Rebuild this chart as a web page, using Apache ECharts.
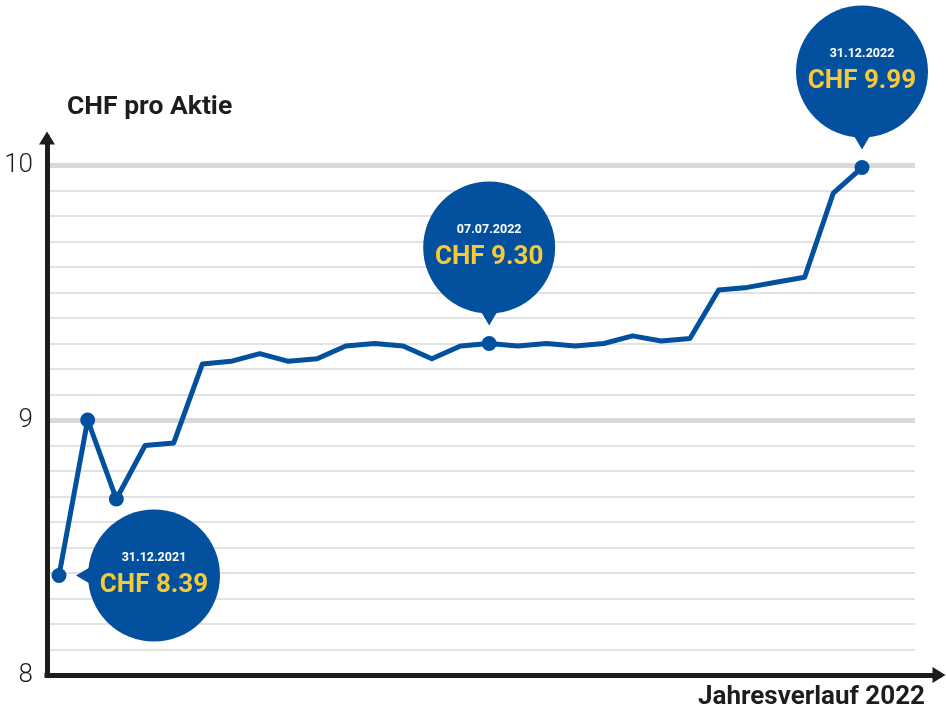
<!DOCTYPE html>
<html>
<head>
<meta charset="utf-8">
<script src="https://cdn.jsdelivr.net/npm/echarts@6/dist/echarts.min.js"></script>
<style>
html,body{margin:0;padding:0;background:#fff;}
#chart{width:946px;height:719px;}
</style>
</head>
<body>
<div id="chart"></div>
<script>
// ---- data ----
const prices = [8.39, 9.00, 8.69, 8.90, 8.91, 9.22, 9.23, 9.26, 9.23, 9.24, 9.29, 9.30, 9.29, 9.24, 9.29,
                9.30, 9.29, 9.30, 9.29, 9.30, 9.33, 9.31, 9.32, 9.51, 9.52, 9.54, 9.56, 9.89, 9.99];
const markedPoints = [0, 1, 2, 15, 28];
const bubbleIndex = [0, 15, 28];
const bubbleDates = ['31.12.2021', '07.07.2022', '31.12.2022'];
const bubbleDir = ['right', 'up', 'up'];
const yTicks = [8, 9, 10];
const yTitle = 'CHF pro Aktie';
const xTitle = 'Jahresverlauf 2022';

// ---- styles ----
const BLUE = '#02509e';
const YELLOW = '#f7c936';
const FONT = 'Roboto';

const lineData = prices.map((v, i) => [i, v]);
const bubbleData = bubbleIndex.map((idx, k) => [idx, prices[idx], k]);

const chart = echarts.init(document.getElementById('chart'), null, {renderer: 'canvas'});

chart.setOption({
  animation: false,
  backgroundColor: '#fff',
  title: [
    {text: yTitle, left: 67, top: 94, padding: 0,
     textStyle: {fontFamily: FONT, fontWeight: 'bold', fontSize: 26.5, color: '#1d1d1b'}},
    {text: xTitle, right: 21, top: 684, padding: 0,
     textStyle: {fontFamily: FONT, fontWeight: 'bold', fontSize: 26, color: '#1d1d1b'}}
  ],
  grid: [
    {left: 47, right: 31, top: 165, bottom: 44},
    {left: 47, right: 7, top: 138, bottom: 44}
  ],
  xAxis: [
    {type: 'value', gridIndex: 0, min: -0.4184, max: 29.848, show: false},
    {type: 'value', gridIndex: 1, min: 0, max: 1,
     axisLine: {show: true, onZero: false, symbol: ['none', 'triangle'], symbolSize: [16, 13],
                lineStyle: {color: '#1d1d1b', width: 5, cap: 'square'}},
     axisTick: {show: false}, axisLabel: {show: false}, splitLine: {show: false}}
  ],
  yAxis: [
    {type: 'value', gridIndex: 0, min: 8, max: 10, interval: 0.1,
     axisLine: {show: false}, axisTick: {show: false}, axisLabel: {show: false},
     splitLine: {show: true, lineStyle: {color: '#e2e2e2', width: 2}}},
    {type: 'value', gridIndex: 0, min: 8, max: 10, interval: 1, position: 'left',
     axisLine: {show: false}, axisTick: {show: false},
     axisLabel: {show: true, margin: 14, fontFamily: FONT, fontWeight: 300, fontSize: 26, color: '#1d1d1b',
                 formatter: v => (yTicks.indexOf(Math.round(v)) >= 0 ? String(Math.round(v)) : '')},
     splitLine: {show: true, lineStyle: {color: '#d9d9d9', width: 5}}},
    {type: 'value', gridIndex: 1, min: 0, max: 1,
     axisLine: {show: true, onZero: false, symbol: ['none', 'triangle'], symbolSize: [16, 13],
                lineStyle: {color: '#1d1d1b', width: 5, cap: 'square'}},
     axisTick: {show: false}, axisLabel: {show: false}, splitLine: {show: false}}
  ],
  series: [
    {
      type: 'line', xAxisIndex: 0, yAxisIndex: 0, data: lineData,
      showAllSymbol: true, symbol: 'circle',
      symbolSize: (val, params) => (markedPoints.indexOf(params.dataIndex) >= 0 ? 15 : 0),
      lineStyle: {color: BLUE, width: 5, join: 'round'},
      itemStyle: {color: BLUE, borderWidth: 0},
      z: 3
    },
    {
      type: 'custom', xAxisIndex: 0, yAxisIndex: 0, data: bubbleData, clip: false, z: 4,
      renderItem: (params, api) => {
        const p = api.coord([api.value(0), api.value(1)]);
        const k = api.value(2);
        const r = 66;
        let cx, cy, tri;
        if (bubbleDir[k] === 'right') {
          cx = p[0] + 95; cy = p[1];
          tri = [[p[0] + 17, p[1]], [cx - r + 10, cy - 13], [cx - r + 10, cy + 13]];
        } else {
          cx = p[0]; cy = p[1] - 96;
          tri = [[p[0], p[1] - 18], [cx - 13, cy + r - 10], [cx + 13, cy + r - 10]];
        }
        return {
          type: 'group',
          children: [
            {type: 'polygon', shape: {points: tri}, style: {fill: BLUE}},
            {type: 'circle', shape: {cx: cx, cy: cy, r: r}, style: {fill: BLUE}},
            {type: 'text', style: {x: cx, y: cy - 18, text: bubbleDates[k], fill: '#ffffff',
              fontFamily: FONT, fontWeight: 'bold', fontSize: 12.5, align: 'center', verticalAlign: 'middle'}},
            {type: 'text', style: {x: cx, y: cy + 10, text: 'CHF ' + api.value(1).toFixed(2), fill: YELLOW,
              fontFamily: FONT, fontWeight: 'bold', fontSize: 26, align: 'center', verticalAlign: 'middle'}}
          ]
        };
      }
    }
  ]
});
</script>
</body>
</html>
